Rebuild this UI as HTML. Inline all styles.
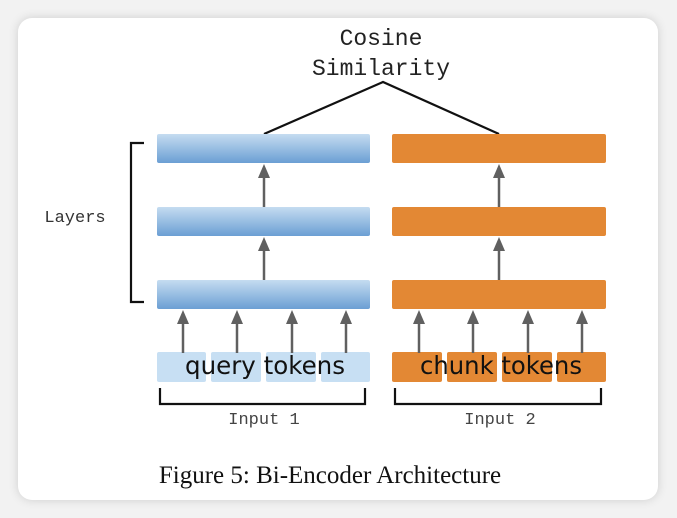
<!DOCTYPE html>
<html><head><style>
html,body{margin:0;padding:0;background:#f2f2f2;}
body{width:677px;height:518px;position:relative;overflow:hidden;}
.card{position:absolute;left:18px;top:18px;width:640px;height:482px;background:#fff;border-radius:14px;box-shadow:0 0 10px rgba(0,0,0,0.15);}
svg{position:absolute;left:0;top:0;}
</style></head><body>
<div class="card"></div>
<svg width="677" height="518" viewBox="0 0 677 518">
<defs>
<linearGradient id="b" x1="0" y1="0" x2="0" y2="1">
<stop offset="0" stop-color="#c5dcf1"/><stop offset="1" stop-color="#6b9fd4"/>
</linearGradient>
</defs>
<g font-family="Liberation Mono, monospace" fill="#222">
<text x="381" y="45" font-size="23" text-anchor="middle">Cosine</text>
<text x="381" y="75" font-size="23" text-anchor="middle">Similarity</text>
<text x="75" y="222" font-size="17" text-anchor="middle" fill="#333">Layers</text>
<text x="264" y="424" font-size="17" text-anchor="middle" fill="#444">Input 1</text>
<text x="500" y="424" font-size="17" text-anchor="middle" fill="#444">Input 2</text>
</g>
<polyline points="264,134 383,82 499,134" fill="none" stroke="#111" stroke-width="2.2"/>
<g>
<rect x="157" y="134" width="213" height="29" rx="2" fill="url(#b)"/>
<rect x="157" y="207" width="213" height="29" rx="2" fill="url(#b)"/>
<rect x="157" y="280" width="213" height="29" rx="2" fill="url(#b)"/>
<rect x="392" y="134" width="214" height="29" rx="2" fill="#e38834"/>
<rect x="392" y="207" width="214" height="29" rx="2" fill="#e38834"/>
<rect x="392" y="280" width="214" height="29" rx="2" fill="#e38834"/>
<g fill="#c7dff3">
<rect x="157" y="352" width="49" height="30" rx="2"/><rect x="211" y="352" width="50" height="30" rx="2"/><rect x="266" y="352" width="50" height="30" rx="2"/><rect x="321" y="352" width="49" height="30" rx="2"/>
</g>
<g fill="#e38834">
<rect x="392" y="352" width="50" height="30" rx="2"/><rect x="447" y="352" width="50" height="30" rx="2"/><rect x="502" y="352" width="50" height="30" rx="2"/><rect x="557" y="352" width="49" height="30" rx="2"/>
</g>
</g>
<g stroke="#606060" stroke-width="2.5">
<line x1="264" y1="207" x2="264" y2="175"/><line x1="264" y1="280" x2="264" y2="248"/>
<line x1="499" y1="207" x2="499" y2="175"/><line x1="499" y1="280" x2="499" y2="248"/>
<line x1="183" y1="353" x2="183" y2="321"/><line x1="237" y1="353" x2="237" y2="321"/><line x1="292" y1="353" x2="292" y2="321"/><line x1="346" y1="353" x2="346" y2="321"/>
<line x1="419" y1="353" x2="419" y2="321"/><line x1="473" y1="353" x2="473" y2="321"/><line x1="528" y1="353" x2="528" y2="321"/><line x1="582" y1="353" x2="582" y2="321"/>
</g>
<g fill="#606060">
<path d="M258,178 L264,164 L270,178Z"/><path d="M258,251 L264,237 L270,251Z"/>
<path d="M493,178 L499,164 L505,178Z"/><path d="M493,251 L499,237 L505,251Z"/>
<path d="M177,324 L183,310 L189,324Z"/><path d="M231,324 L237,310 L243,324Z"/><path d="M286,324 L292,310 L298,324Z"/><path d="M340,324 L346,310 L352,324Z"/>
<path d="M413,324 L419,310 L425,324Z"/><path d="M467,324 L473,310 L479,324Z"/><path d="M522,324 L528,310 L534,324Z"/><path d="M576,324 L582,310 L588,324Z"/>
</g>
<g font-family="DejaVu Sans, sans-serif" font-size="25" fill="#111" text-anchor="middle">
<text x="265" y="374" textLength="160" lengthAdjust="spacingAndGlyphs">query tokens</text>
<text x="501" y="374" textLength="162" lengthAdjust="spacingAndGlyphs">chunk tokens</text>
</g>
<g fill="none" stroke="#111" stroke-width="2.2">
<path d="M144,143 H131 V302 H144"/>
<path d="M160,388 V404 H365 V388"/>
<path d="M395,388 V404 H601 V388"/>
</g>
<text x="330" y="483" font-family="Liberation Serif, serif" font-size="25" text-anchor="middle" fill="#111">Figure 5: Bi-Encoder Architecture</text>
</svg>
</body></html>
